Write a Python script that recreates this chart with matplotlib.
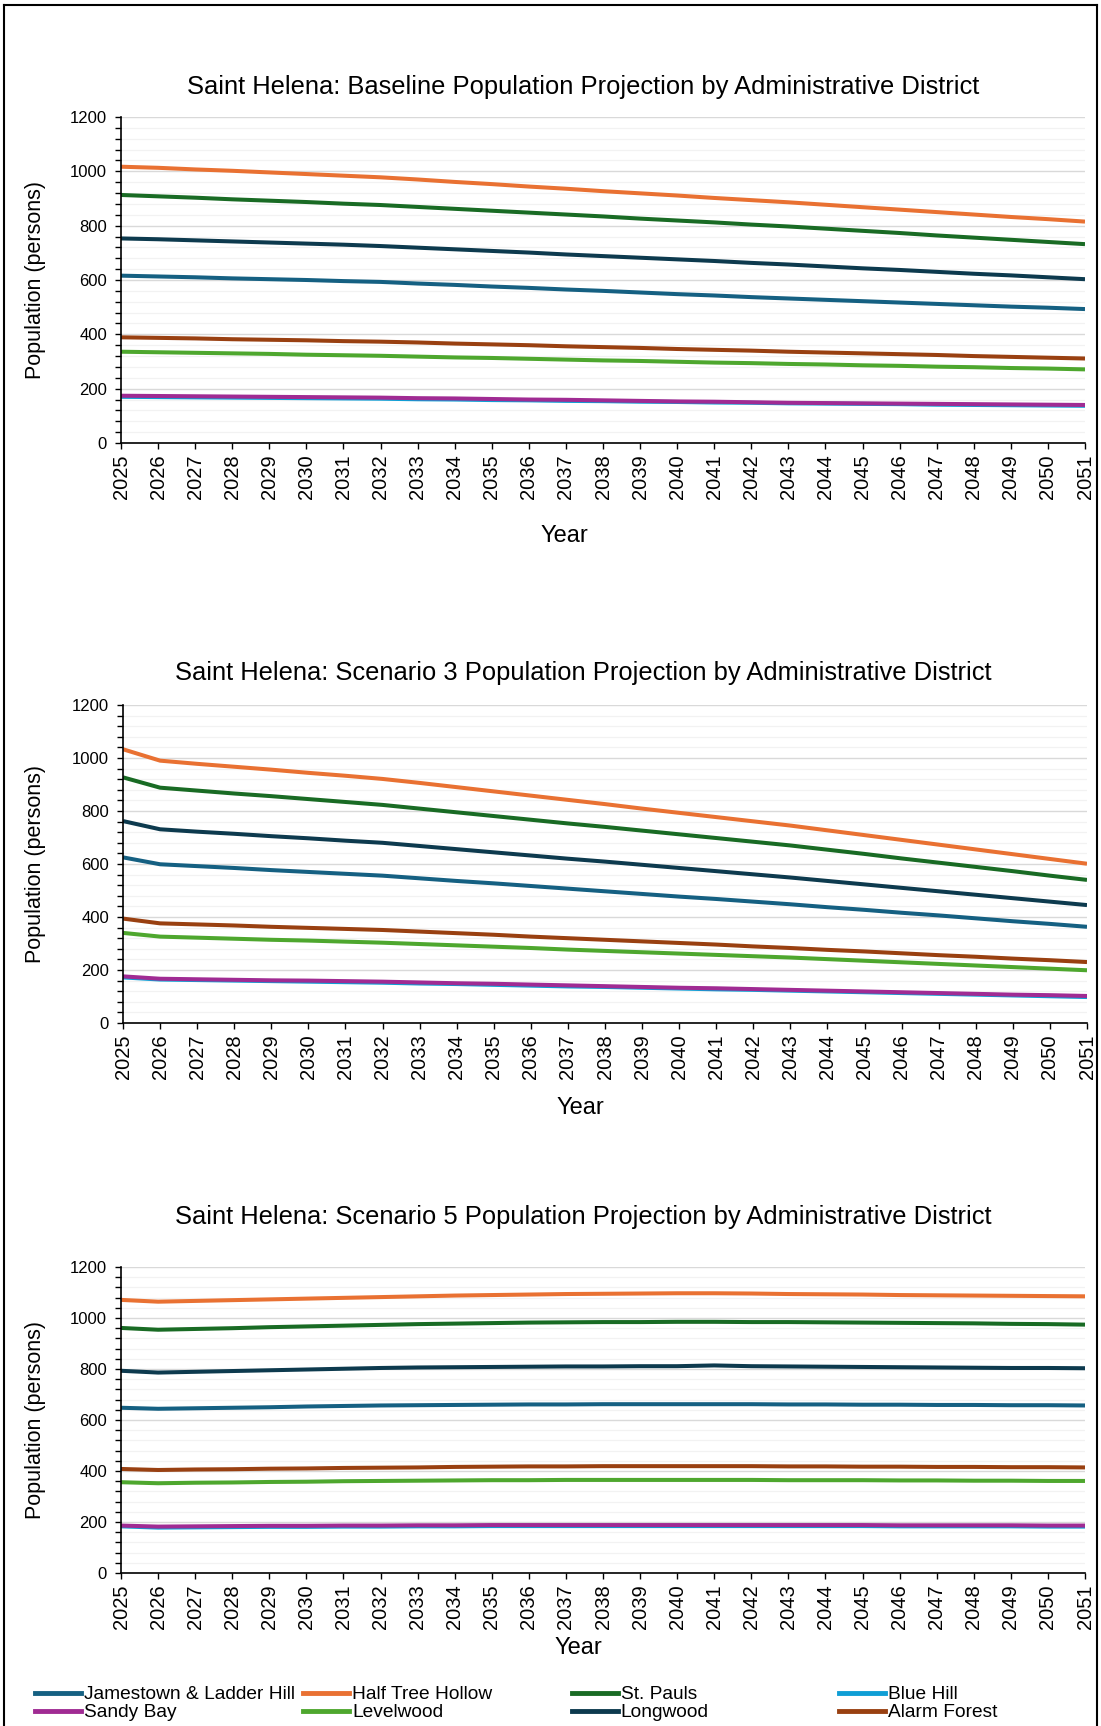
import numpy as np
import matplotlib.pyplot as plt
from matplotlib.lines import Line2D

plt.rcParams['font.family'] = ['Liberation Sans', 'DejaVu Sans']

years = list(range(2025, 2052))

districts = ['Jamestown & Ladder Hill', 'Half Tree Hollow', 'St. Pauls', 'Blue Hill',
             'Sandy Bay', 'Levelwood', 'Longwood', 'Alarm Forest']
colors = ['#156082', '#E97132', '#196B24', '#0F9ED5',
          '#A02B93', '#4EA72E', '#0D3A4E', '#994011']

# Baseline
base_jamestown = [616, 613, 610, 606, 603, 600, 596, 593, 587, 582, 576, 571, 565, 560, 554, 548, 543, 537, 532, 527, 522, 517, 512, 507, 502, 498, 493]
base_halftree = [1017, 1013, 1007, 1002, 996, 990, 984, 978, 970, 961, 953, 944, 936, 927, 919, 911, 902, 894, 886, 877, 868, 859, 850, 841, 832, 824, 815]
base_stpauls = [913, 908, 903, 897, 892, 887, 881, 876, 869, 862, 855, 848, 841, 834, 826, 819, 812, 804, 797, 789, 781, 773, 764, 756, 748, 740, 732]
base_bluehill = [170, 169, 168, 167, 166, 165, 164, 163, 161, 160, 158, 157, 155, 154, 152, 151, 149, 148, 146, 145, 144, 143, 141, 140, 139, 138, 137]
base_sandybay = [174, 173, 172, 171, 170, 169, 168, 167, 165, 164, 162, 160, 159, 157, 155, 153, 152, 150, 148, 147, 146, 145, 144, 143, 142, 141, 140]
base_levelwood = [336, 334, 332, 330, 328, 325, 323, 321, 318, 315, 313, 310, 307, 304, 302, 299, 296, 294, 291, 289, 286, 284, 281, 279, 276, 274, 271]
base_longwood = [753, 750, 746, 742, 738, 734, 730, 725, 719, 713, 707, 701, 694, 688, 682, 676, 670, 663, 657, 650, 643, 637, 630, 623, 617, 610, 603]
base_alarm = [389, 387, 385, 382, 380, 378, 375, 373, 370, 366, 363, 360, 356, 353, 350, 346, 343, 340, 336, 333, 330, 327, 324, 320, 317, 314, 311]

# Scenario 3
s3_jamestown = [625, 599, 592, 585, 577, 570, 563, 556, 546, 536, 527, 517, 507, 497, 487, 477, 468, 458, 448, 437, 427, 416, 406, 395, 384, 374, 363]
s3_halftree = [1033, 990, 978, 967, 956, 944, 933, 921, 906, 890, 874, 858, 842, 826, 809, 793, 777, 761, 745, 727, 709, 691, 673, 655, 637, 619, 601]
s3_stpauls = [927, 888, 877, 866, 856, 845, 834, 823, 809, 795, 781, 767, 753, 740, 726, 712, 698, 684, 670, 654, 638, 621, 605, 589, 573, 556, 540]
s3_bluehill = [172, 164, 162, 160, 158, 156, 154, 152, 149, 147, 144, 141, 138, 136, 133, 130, 127, 125, 122, 119, 116, 113, 110, 107, 104, 101, 98]
s3_sandybay = [176, 167, 165, 163, 161, 160, 158, 156, 153, 150, 148, 145, 142, 139, 136, 133, 131, 128, 125, 122, 119, 116, 113, 110, 107, 105, 102]
s3_levelwood = [340, 326, 322, 318, 314, 311, 307, 303, 298, 293, 288, 283, 277, 272, 267, 262, 257, 252, 247, 241, 235, 229, 223, 217, 211, 205, 199]
s3_longwood = [762, 731, 722, 714, 705, 697, 688, 680, 668, 656, 644, 632, 620, 609, 597, 585, 573, 561, 549, 536, 523, 510, 497, 484, 471, 458, 445]
s3_alarm = [394, 376, 372, 368, 363, 359, 355, 351, 345, 339, 333, 326, 320, 314, 308, 302, 296, 289, 283, 276, 270, 263, 256, 250, 243, 237, 230]

# Scenario 5
s5_jamestown = [648, 644, 646, 648, 650, 653, 655, 657, 658, 659, 660, 661, 661, 662, 662, 662, 662, 662, 661, 661, 660, 660, 659, 659, 658, 658, 657]
s5_halftree = [1071, 1064, 1067, 1070, 1073, 1076, 1079, 1082, 1085, 1088, 1090, 1092, 1094, 1095, 1096, 1097, 1097, 1096, 1094, 1093, 1092, 1090, 1089, 1088, 1087, 1086, 1085]
s5_stpauls = [961, 954, 957, 960, 964, 967, 970, 973, 976, 978, 980, 982, 983, 984, 984, 985, 985, 984, 984, 983, 982, 981, 980, 979, 977, 976, 974]
s5_bluehill = [183, 178, 179, 180, 181, 181, 182, 182, 183, 183, 184, 184, 184, 184, 184, 184, 184, 184, 184, 184, 184, 183, 183, 183, 183, 182, 182]
s5_sandybay = [186, 182, 183, 184, 185, 185, 186, 186, 187, 187, 188, 188, 188, 188, 188, 188, 188, 188, 188, 188, 188, 187, 187, 187, 187, 186, 186]
s5_levelwood = [356, 352, 354, 355, 357, 358, 360, 361, 362, 363, 364, 364, 365, 365, 365, 365, 365, 365, 364, 364, 364, 363, 363, 362, 362, 361, 361]
s5_longwood = [793, 786, 789, 792, 795, 798, 801, 804, 806, 807, 808, 809, 810, 810, 811, 811, 814, 811, 810, 809, 808, 807, 806, 805, 804, 804, 803]
s5_alarm = [408, 404, 406, 407, 409, 410, 412, 413, 414, 416, 417, 418, 418, 419, 419, 419, 419, 419, 418, 418, 417, 417, 416, 416, 415, 415, 414]

titles = ['Saint Helena: Baseline Population Projection by Administrative District',
          'Saint Helena: Scenario 3 Population Projection by Administrative District',
          'Saint Helena: Scenario 5 Population Projection by Administrative District']

scenarios = [
    [base_jamestown, base_halftree, base_stpauls, base_bluehill, base_sandybay, base_levelwood, base_longwood, base_alarm],
    [s3_jamestown, s3_halftree, s3_stpauls, s3_bluehill, s3_sandybay, s3_levelwood, s3_longwood, s3_alarm],
    [s5_jamestown, s5_halftree, s5_stpauls, s5_bluehill, s5_sandybay, s5_levelwood, s5_longwood, s5_alarm],
]

W, H = 1101, 1726
fig = plt.figure(figsize=(W / 100, H / 100), dpi=100)

# axes boxes in pixels: left, right, top, bottom
boxes = [(121, 1085, 117, 443), (123, 1087, 705, 1023), (121, 1085, 1267, 1573)]
title_y = [87, 673, 1217]
year_y = [536, 1108, 1648]
year_x = [564, 580, 578]

for i, (l, r, t, b) in enumerate(boxes):
    ax = fig.add_axes([l / W, 1 - b / H, (r - l) / W, (b - t) / H])
    for vals, c in zip(scenarios[i], colors):
        ax.plot(years, vals, color=c, lw=2.9, solid_capstyle='butt')
    ax.set_xlim(2025, 2051)
    ax.set_ylim(0, 1200)
    ax.set_xticks(years)
    ax.set_xticklabels([str(y) for y in years], rotation=90, fontsize=14.5)
    ax.set_yticks(range(0, 1201, 200))
    ax.set_yticks(range(0, 1201, 40), minor=True)
    ax.tick_params(axis='y', which='major', labelsize=12, length=4, width=1, pad=6, direction='out')
    ax.tick_params(axis='y', which='minor', length=4, width=1, direction='out')
    ax.tick_params(axis='x', length=4, width=1, pad=4, direction='out')
    ax.grid(axis='y', which='major', color='#D9D9D9', lw=1.0)
    ax.grid(axis='y', which='minor', color='#F2F2F2', lw=0.9)
    ax.set_axisbelow(True)
    for s in ['top', 'right']:
        ax.spines[s].set_visible(False)
    for s in ['left', 'bottom']:
        ax.spines[s].set_linewidth(1.2)
    ax.set_ylabel('Population (persons)', fontsize=15.5)
    ax.yaxis.set_label_coords(-(l - 46) / (r - l), 0.5)
    fig.text(583 / W, 1 - title_y[i] / H, titles[i], fontsize=18.4, ha='center', va='center')
    fig.text(year_x[i] / W, 1 - year_y[i] / H, 'Year', fontsize=17, ha='center', va='center')

# legend, four columns of two rows
col_x = [35, 303, 572, 839]
for k in range(4):
    hs = []
    for j in (k, k + 4):
        hs.append(Line2D([], [], color=colors[j], lw=3.5, label=districts[j]))
    fig.legend(handles=hs, loc='upper left', bbox_to_anchor=(col_x[k] / W, 1 - 1686 / H),
               frameon=False, fontsize=13.8, handlelength=2.4, handletextpad=0.15,
               borderpad=0, borderaxespad=0, labelspacing=0.02)

# outer frame
fig.add_artist(Line2D([4 / W, 4 / W], [0, 1 - 5 / H], color='black', lw=1.5))
fig.add_artist(Line2D([4 / W, 1097 / W], [1 - 5 / H, 1 - 5 / H], color='black', lw=1.5))
fig.add_artist(Line2D([1097 / W, 1097 / W], [0, 1 - 5 / H], color='black', lw=1.5))

fig.savefig('out.png', dpi=100)
